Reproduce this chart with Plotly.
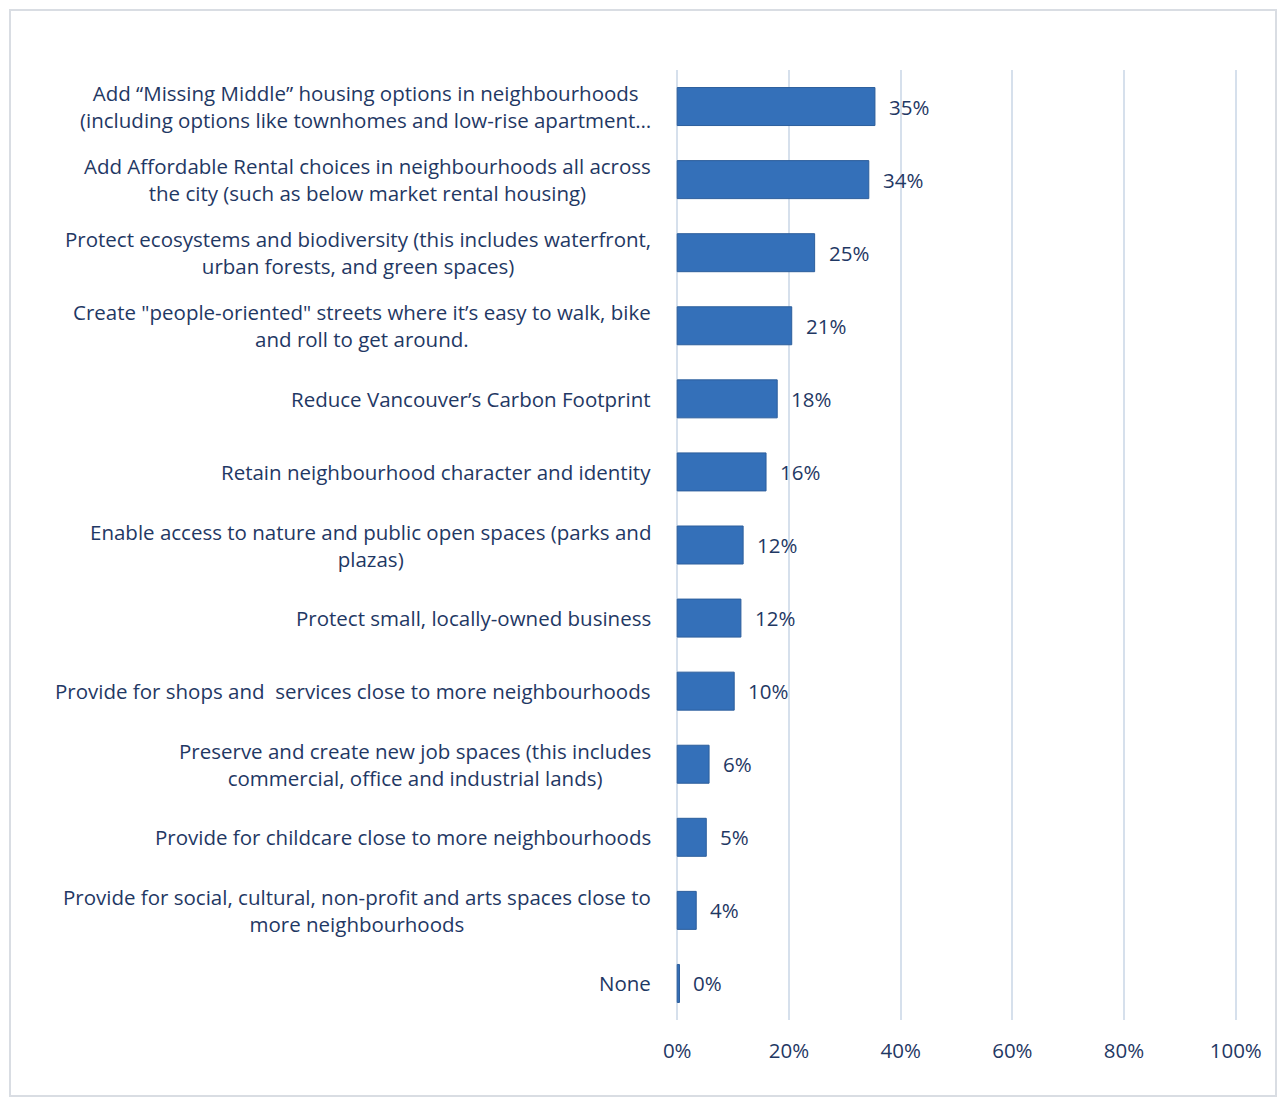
import plotly.graph_objects as go

categories = [
    "Add “Missing Middle” housing options in neighbourhoods<br>(including options like townhomes and low-rise apartment…",
    "Add Affordable Rental choices in neighbourhoods all across<br>the city (such as below market rental housing)",
    "Protect ecosystems and biodiversity (this includes waterfront,<br>urban forests, and green spaces)",
    "Create \"people-oriented\" streets where it’s easy to walk, bike<br>and roll to get around.",
    "Reduce Vancouver’s Carbon Footprint",
    "Retain neighbourhood character and identity",
    "Enable access to nature and public open spaces (parks and<br>plazas)",
    "Protect small, locally-owned business",
    "Provide for shops and  services close to more neighbourhoods",
    "Preserve and create new job spaces (this includes<br>commercial, office and industrial lands)",
    "Provide for childcare close to more neighbourhoods",
    "Provide for social, cultural, non-profit and arts spaces close to<br>more neighbourhoods",
    "None",
]
values = [35.4, 34.3, 24.6, 20.5, 17.9, 15.9, 11.8, 11.4, 10.2, 5.7, 5.2, 3.4, 0.4]
value_labels = ["35%", "34%", "25%", "21%", "18%", "16%", "12%", "12%", "10%", "6%", "5%", "4%", "0%"]
x_ticks = [0, 20, 40, 60, 80, 100]
x_tick_labels = ["0%", "20%", "40%", "60%", "80%", "100%"]

FONT = "Open Sans"
TXT = "#1f3864"
SIZE = 20.5
ids = list(range(len(categories)))

fig = go.Figure()
fig.add_trace(go.Bar(
    y=ids, x=values, orientation="h", width=0.52,
    marker=dict(color="#3470b9", line=dict(color="#2c5e9c", width=1)),
    hoverinfo="skip",
))

annotations = []
for i, (c, v, lab) in enumerate(zip(categories, values, value_labels)):
    annotations.append(dict(
        x=0, xref="x", y=i, yref="y", text=c, showarrow=False,
        xanchor="right", yanchor="middle", align="center", xshift=-24,
        font=dict(family=FONT, size=SIZE, color=TXT),
    ))
    annotations.append(dict(
        x=v, xref="x", y=i, yref="y", text=lab, showarrow=False,
        xanchor="left", yanchor="middle", xshift=12,
        font=dict(family=FONT, size=SIZE, color=TXT),
    ))

fig.update_layout(
    width=1280, height=1099,
    margin=dict(l=675, r=42, t=70, b=79),
    paper_bgcolor="white", plot_bgcolor="white",
    showlegend=False,
    annotations=annotations,
    font=dict(family=FONT, size=SIZE, color=TXT),
    xaxis=dict(
        range=[-0.4, 100.4], tickvals=x_ticks, ticktext=x_tick_labels,
        showgrid=True, gridcolor="#d6e0ec", gridwidth=2,
        zeroline=False, showline=False,
        ticks="outside", ticklen=12, tickcolor="rgba(0,0,0,0)",
        tickfont=dict(family=FONT, size=SIZE, color=TXT),
    ),
    yaxis=dict(
        range=[len(categories) - 0.5, -0.5],
        showticklabels=False, showgrid=False, zeroline=False, showline=False,
    ),
    shapes=[dict(
        type="rect", xref="paper", yref="paper",
        x0=(10 - 675) / 563, x1=(1276 - 675) / 563,
        y0=(1020 - 1096) / 950, y1=1 + (70 - 10) / 950,
        line=dict(color="#d9dde3", width=2), layer="below",
    )],
)

fig.write_html("out.html")
